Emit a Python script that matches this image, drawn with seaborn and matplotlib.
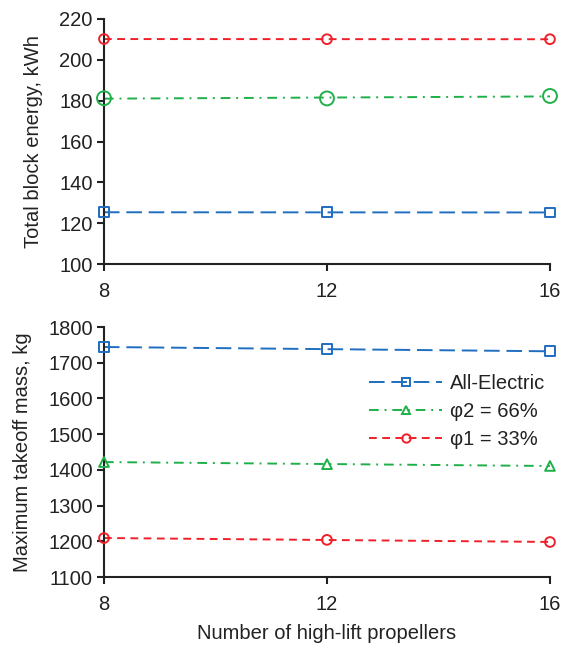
import matplotlib
matplotlib.use("Agg")
import matplotlib.pyplot as plt
import seaborn as sns
import pandas as pd
from matplotlib.lines import Line2D

sns.set_theme(style="ticks")
plt.rcParams['font.family'] = ['Liberation Sans', 'DejaVu Sans']

propellers = [8, 12, 16]
series = ["All-Electric", "φ2 = 66%", "φ1 = 33%"]
energy_all_electric = [125.3, 125.4, 125.2]
energy_phi2 = [181.2, 181.1, 182.3]
energy_phi1 = [210.2, 210.1, 210.1]
mtom_all_electric = [1744, 1738, 1732]
mtom_phi2 = [1422, 1416, 1411]
mtom_phi1 = [1209, 1204, 1198]

colors = {"All-Electric": "#1F6EC0", "φ2 = 66%": "#1FB04A", "φ1 = 33%": "#F0202A"}
dashes = {"All-Electric": (0, (8, 3.5)), "φ2 = 66%": (0, (5, 3, 1, 3)), "φ1 = 33%": (0, (4, 2.8))}

top_markers = {"All-Electric": ("s", 7), "φ2 = 66%": ("o", 10), "φ1 = 33%": ("o", 7)}
bot_markers = {"All-Electric": ("s", 7), "φ2 = 66%": ("^", 7), "φ1 = 33%": ("o", 7)}

FS = 14.5
TXT = "#222222"

fig = plt.figure(figsize=(5.66, 6.46), dpi=100)
ax1 = fig.add_axes([0.1837, 0.5913, 0.788, 0.3793])
ax2 = fig.add_axes([0.1837, 0.1068, 0.788, 0.387])

def draw(ax, data, markers):
    for name, vals in data.items():
        df = pd.DataFrame({"x": propellers, "y": vals})
        m, ms = markers[name]
        sns.regplot(data=df, x="x", y="y", ax=ax, ci=None, scatter=False,
                    color=colors[name],
                    line_kws=dict(linestyle=dashes[name], linewidth=1.4))
        sns.scatterplot(data=df, x="x", y="y", ax=ax, marker=m, s=ms**2,
                        facecolor="none", edgecolor=colors[name], linewidth=1.4,
                        zorder=5, clip_on=False)

draw(ax1, {"All-Electric": energy_all_electric, "φ2 = 66%": energy_phi2,
           "φ1 = 33%": energy_phi1}, top_markers)
draw(ax2, {"All-Electric": mtom_all_electric, "φ2 = 66%": mtom_phi2,
           "φ1 = 33%": mtom_phi1}, bot_markers)

ax1.set_ylim(100, 220)
ax1.set_yticks(range(100, 221, 20))
ax2.set_ylim(1100, 1800)
ax2.set_yticks(range(1100, 1801, 100))
for ax in (ax1, ax2):
    ax.set_xlim(8, 16)
    ax.set_xticks(propellers)
    ax.set_xlabel("")
    sns.despine(ax=ax)
    for s in ("left", "bottom"):
        ax.spines[s].set_linewidth(1.5)
        ax.spines[s].set_color(TXT)
    ax.tick_params(axis="both", labelsize=FS, width=1.5, length=5,
                   colors=TXT)
    ax.tick_params(axis="x", pad=8)
    ax.tick_params(axis="y", pad=3)

ax1.set_ylabel("Total block energy, kWh", fontsize=FS, color=TXT, labelpad=12)
ax2.set_ylabel("Maximum takeoff mass, kg", fontsize=FS, color=TXT, labelpad=12)
ax2.set_xlabel("Number of high-lift propellers", fontsize=FS, color=TXT, labelpad=7)

handles = []
for name in series:
    m, ms = bot_markers[name]
    handles.append(Line2D([], [], color=colors[name], linestyle=dashes[name],
                          linewidth=1.4, marker=m, markersize=6,
                          markerfacecolor="none", markeredgewidth=1.4))
leg = ax2.legend(handles, series, loc="upper right", bbox_to_anchor=(1.03, 0.885),
                 frameon=False, fontsize=FS, handlelength=3.6, handletextpad=0.4,
                 labelspacing=0.45)
for t in leg.get_texts():
    t.set_color(TXT)

fig.savefig("out.png", dpi=100)
